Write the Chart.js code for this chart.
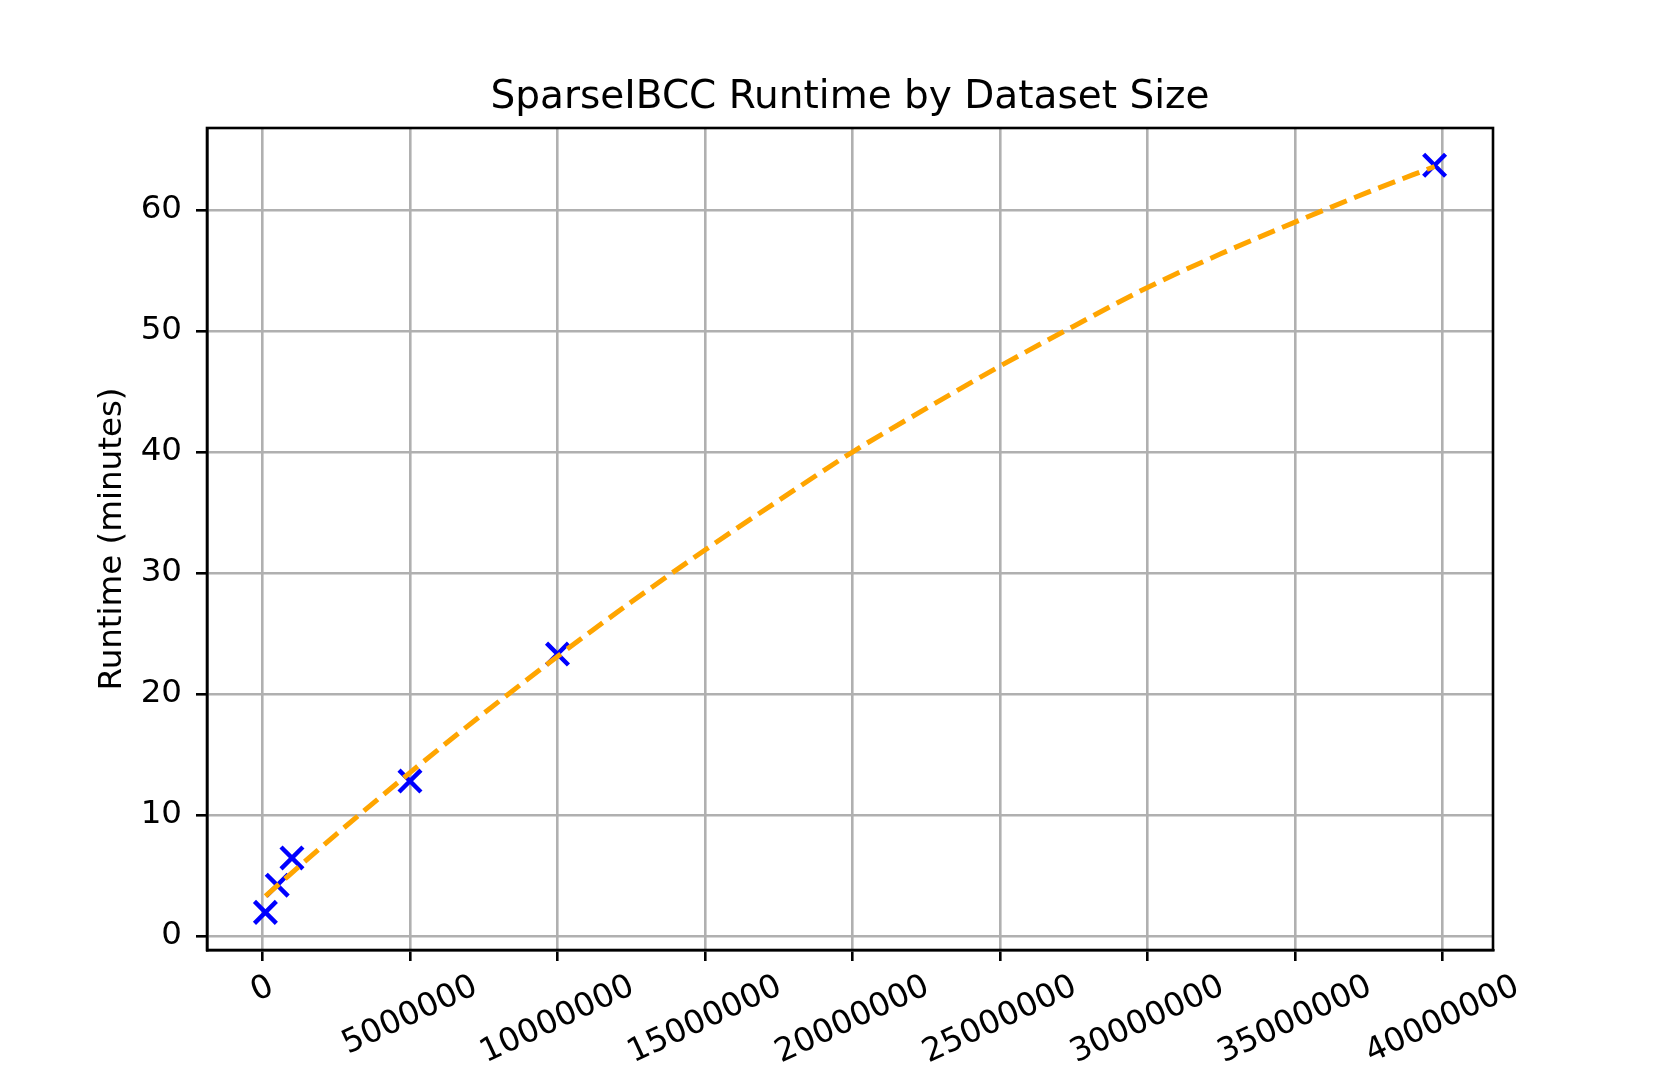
<!DOCTYPE html>
<html>
<head>
<meta charset="utf-8">
<script src="https://cdn.jsdelivr.net/npm/chart.js@4/dist/chart.umd.min.js"></script>
<style>
  html, body { margin: 0; padding: 0; background: #fff; }
  #wrap { width: 1661px; height: 1068px; }
</style>
</head>
<body>
<div id="wrap"><canvas id="runtime-chart" width="1661" height="1068"></canvas></div>
<script>
// Measured runs (dataset size, runtime in minutes).
const sizes = [100000, 500000, 1000000, 5000000, 10000000, 39730000];
const runtimes = [1.95, 4.2, 6.45, 12.8, 23.3, 63.7];

// Fitted trend line.
const fitSizes = [100000, 2500000, 5000000, 7500000, 10000000, 12500000, 15000000, 17500000,
  20000000, 22500000, 25000000, 27500000, 30000000, 32500000, 35000000, 37500000, 39730000];
const fitRuntimes = [3.3, 8.4, 13.5, 18.4, 23.1, 27.6, 31.9, 36.0,
  40.0, 43.6, 47.1, 50.4, 53.6, 56.4, 59.0, 61.5, 63.6];

// Tick values and labels.
const xTickValues = [0, 5000000, 10000000, 15000000, 20000000, 25000000, 30000000, 35000000, 40000000];
const xTicks = ["0", "5000000", "10000000", "15000000", "20000000", "25000000", "30000000", "35000000", "40000000"];
const yTickValues = [0, 10, 20, 30, 40, 50, 60];
const yTicks = ["0", "10", "20", "30", "40", "50", "60"];

const FONT = "'DejaVu Sans', 'Liberation Sans', sans-serif";
const TICK_SIZE = 32.5;

Chart.defaults.font.family = FONT;
Chart.defaults.color = "#000";

// Draw the frame around the plot area and the rotated x labels.
const framePlugin = {
  id: "frame",
  afterDraw: function (chart) {
    const ctx = chart.ctx;
    const area = chart.chartArea;
    ctx.save();
    ctx.strokeStyle = "#000";
    ctx.lineWidth = 2.6;
    ctx.strokeRect(area.left, area.top, area.right - area.left, area.bottom - area.top);

    const xScale = chart.scales.x;
    const angle = 25 * Math.PI / 180;
    const lineH = TICK_SIZE * 1.17;
    ctx.font = TICK_SIZE + "px " + FONT;
    ctx.fillStyle = "#000";
    ctx.textAlign = "center";
    ctx.textBaseline = "middle";
    xScale.ticks.forEach(function (tick) {
      const idx = xTickValues.indexOf(tick.value);
      if (idx < 0) {
        return;
      }
      const label = xTicks[idx];
      const w = ctx.measureText(label).width;
      const boxH = w * Math.sin(angle) + lineH * Math.cos(angle);
      const px = xScale.getPixelForValue(tick.value);
      const py = area.bottom + 18 + boxH / 2;
      ctx.save();
      ctx.translate(px, py);
      ctx.rotate(-angle);
      ctx.fillText(label, 0, 0);
      ctx.restore();
    });
    ctx.restore();
  }
};

const fitPoints = fitSizes.map(function (s, i) {
  return { x: s, y: fitRuntimes[i] };
});
const runPoints = sizes.map(function (s, i) {
  return { x: s, y: runtimes[i] };
});

const gridStyle = {
  color: "#b0b0b0",
  lineWidth: 2.6,
  tickColor: "#000",
  tickLength: 11,
  tickWidth: 2.6
};

const ctx = document.querySelector("#runtime-chart").getContext("2d");
const chart = new Chart(ctx, {
  type: "scatter",
  data: {
    datasets: [{
      type: "line",
      label: "Fit",
      data: fitPoints,
      borderColor: "#ffa500",
      borderWidth: 5,
      borderDash: [18, 8],
      pointRadius: 0,
      fill: false,
      cubicInterpolationMode: "monotone",
      order: 0
    }, {
      type: "scatter",
      label: "Runtime",
      data: runPoints,
      pointStyle: "crossRot",
      pointRadius: 15.5,
      borderColor: "#0000ff",
      backgroundColor: "#0000ff",
      borderWidth: 4.4,
      order: 1
    }]
  },
  options: {
    responsive: false,
    animation: false,
    layout: {
      padding: { left: 0, right: 168, top: 0, bottom: 0 }
    },
    plugins: {
      legend: { display: false },
      tooltip: { enabled: false },
      title: {
        display: true,
        text: "SparseIBCC Runtime by Dataset Size",
        fullSize: false,
        color: "#000",
        font: { size: 39, weight: "normal", family: FONT, lineHeight: 1.2 },
        padding: { top: 74.5, bottom: 6.7 }
      }
    },
    scales: {
      x: {
        type: "linear",
        min: -1880000,
        max: 41710000,
        afterFit: function (scale) {
          scale.height = 118;
        },
        afterBuildTicks: function (scale) {
          scale.ticks = xTickValues.map(function (v) { return { value: v }; });
        },
        ticks: { display: false },
        grid: gridStyle,
        border: { display: true, color: "#000", width: 2.6 }
      },
      y: {
        type: "linear",
        min: -1.16,
        max: 66.78,
        afterFit: function (scale) {
          scale.width = 207;
        },
        afterBuildTicks: function (scale) {
          scale.ticks = yTickValues.map(function (v) { return { value: v }; });
        },
        ticks: {
          padding: 14,
          font: { size: TICK_SIZE },
          color: "#000",
          callback: function (value) {
            const idx = yTickValues.indexOf(value);
            return idx >= 0 ? yTicks[idx] : "";
          }
        },
        grid: gridStyle,
        border: { display: true, color: "#000", width: 2.6 },
        title: {
          display: true,
          text: "Runtime (minutes)",
          color: "#000",
          font: { size: TICK_SIZE, lineHeight: 1.2 },
          padding: { top: 93.5, bottom: 0 }
        }
      }
    }
  },
  plugins: [framePlugin]
});
</script>
</body>
</html>
